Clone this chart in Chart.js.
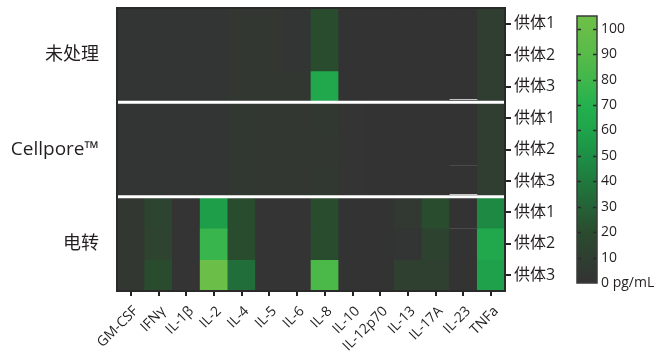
<!DOCTYPE html>
<html>
<head>
<meta charset="utf-8">
<script src="https://cdn.jsdelivr.net/npm/chart.js@4/dist/chart.umd.min.js"></script>
<style>
  html, body { margin: 0; padding: 0; background: #ffffff; }
  #wrap { position: relative; width: 659px; height: 353px; }
  #heat { position: absolute; left: 0; top: 0; }
  #bar { position: absolute; left: 560px; top: 0; }
</style>
</head>
<body>
<div id="wrap">
  <canvas id="heat" width="659" height="353"></canvas>
  <canvas id="bar" width="99" height="353"></canvas>
</div>
<script>
// Cytokine panel (columns) and sample rows
const cytokines = ['GM-CSF', 'IFNγ', 'IL-1β', 'IL-2', 'IL-4', 'IL-5', 'IL-6', 'IL-8', 'IL-10', 'IL-12p70', 'IL-13', 'IL-17A', 'IL-23', 'TNFa'];
const donors = ['供体1', '供体2', '供体3'];
const groups = ['未处理', 'Cellpore™', '电转'];

// Concentrations in pg/mL, one row per donor, columns in cytokine order
const untreated = [
  [2, 2, 2, 2, 3, 3, 2, 20, 0, 0, 0, 0, 0, 8],
  [2, 2, 2, 2, 3, 3, 2, 20, 0, 0, 0, 0, 0, 9],
  [2, 2, 2, 2, 3, 3, 3, 63, 0, 0, 0, 0, 0, 8]
];
const cellpore = [
  [2, 2, 2, 2, 4, 3, 3, 4, 1, 0, 0, 0, 0, 9],
  [2, 2, 2, 2, 4, 3, 3, 3, 1, 0, 0, 0, 0, 9],
  [2, 2, 2, 2, 4, 3, 3, 4, 1, 0, 0, 0, 0, 9]
];
const electroporation = [
  [3, 14, 1, 57, 20, 1, 1, 20, 0, 0, 5, 20, 0, 47],
  [3, 13, 1, 77, 20, 1, 1, 20, 0, 0, 2, 12, 0, 63],
  [3, 20, 1, 103, 35, 1, 1, 84, 0, 0, 11, 11, 0, 58]
];

// Colour scale
const scaleMax = 105;
const scaleTicks = [0, 10, 20, 30, 40, 50, 60, 70, 80, 90, 100];
const scaleUnit = 'pg/mL';
const colorStops = [
  [0, '#333333'], [10, '#2f3f31'], [20, '#2a4c2e'], [30, '#256236'],
  [40, '#1f7a3d'], [50, '#1d8f45'], [60, '#1fa44b'], [70, '#24b14e'],
  [80, '#40b74b'], [90, '#58bb49'], [100, '#68be48'], [105, '#6dc048']
];

const FONT = "'Open Sans', 'Noto Sans CJK SC', sans-serif";
const INK = '#231f20';

function hexToRgb(h) {
  return [parseInt(h.slice(1, 3), 16), parseInt(h.slice(3, 5), 16), parseInt(h.slice(5, 7), 16)];
}
function colorFor(v) {
  if (v <= colorStops[0][0]) return colorStops[0][1];
  for (let i = 1; i < colorStops.length; i++) {
    const [v1, c1] = colorStops[i];
    if (v <= v1) {
      const [v0, c0] = colorStops[i - 1];
      const t = (v - v0) / (v1 - v0);
      const a = hexToRgb(c0), b = hexToRgb(c1);
      const m = a.map((x, k) => Math.round(x + (b[k] - x) * t));
      return `rgb(${m[0]},${m[1]},${m[2]})`;
    }
  }
  return colorStops[colorStops.length - 1][1];
}

const rows = [...untreated, ...cellpore, ...electroporation];

// One stacked band per sample row; each cell coloured by its concentration
const datasets = rows.map((vals, r) => ({
  label: groups[Math.floor(r / 3)] + ' ' + donors[r % 3],
  data: vals.map(() => 1),
  values: vals,
  backgroundColor: vals.map(colorFor),
  borderWidth: 0,
  barPercentage: 1,
  categoryPercentage: 1,
  yAxisID: 'y'
}));

// keep axis end labels from pushing the plot area inwards
function noEdgePadding(s) {
  s.paddingTop = 0; s.paddingBottom = 0; s.paddingLeft = 0; s.paddingRight = 0;
}

const heatFrame = {
  id: 'heatFrame',
  beforeDatasetsDraw(chart) {
    const { ctx, chartArea: a } = chart;
    ctx.save();
    ctx.fillStyle = colorFor(0);
    ctx.fillRect(a.left, a.top, a.right - a.left, a.bottom - a.top);
    ctx.restore();
  },
  afterDatasetsDraw(chart) {
    const { ctx, chartArea: a } = chart;
    const x = chart.scales.x, y = chart.scales.y;
    ctx.save();
    // thin outlines on the IL-23 column
    const ci = cytokines.indexOf('IL-23');
    const x0 = x.getPixelForValue(ci - 0.5), x1 = x.getPixelForValue(ci + 0.5);
    ctx.lineWidth = 1;
    ctx.strokeStyle = '#4a4a4a';
    [5, 7].forEach(r => {
      const py = Math.round(y.getPixelForValue(r)) + 0.5;
      ctx.beginPath(); ctx.moveTo(x0, py); ctx.lineTo(x1, py); ctx.stroke();
    });
    ctx.strokeStyle = '#c4c4c4';
    [3, 6].forEach(r => {
      const py = Math.round(y.getPixelForValue(r)) - 2.5;
      ctx.beginPath(); ctx.moveTo(x0, py); ctx.lineTo(x1, py); ctx.stroke();
    });
    // white separators between treatment groups
    ctx.strokeStyle = '#ffffff';
    ctx.lineWidth = 3;
    for (let g = 1; g < groups.length; g++) {
      const py = y.getPixelForValue(g * donors.length);
      ctx.beginPath();
      ctx.moveTo(a.left, py);
      ctx.lineTo(a.right, py);
      ctx.stroke();
    }
    // frame
    ctx.strokeStyle = '#2a2a2a';
    ctx.lineWidth = 2;
    ctx.strokeRect(a.left, a.top, a.right - a.left, a.bottom - a.top);
    ctx.restore();
  }
};

new Chart(document.getElementById('heat'), {
  type: 'bar',
  data: { labels: cytokines, datasets },
  options: {
    responsive: false,
    animation: false,
    devicePixelRatio: 1,
    layout: { padding: { top: 8, right: 104, left: 0, bottom: 0 } },
    plugins: { legend: { display: false }, tooltip: { enabled: false } },
    scales: {
      x: {
        stacked: true,
        offset: true,
        grid: { offset: false, drawOnChartArea: false, drawTicks: true, tickLength: 5, color: '#222', lineWidth: 2 },
        border: { display: false },
        ticks: {
          minRotation: 45, maxRotation: 45, autoSkip: false, padding: 7, labelOffset: 5,
          color: INK, font: { family: FONT, size: 14 }
        },
        afterFit(s) { s.height = 62; noEdgePadding(s); }
      },
      y: {
        type: 'linear',
        stacked: true,
        position: 'right',
        reverse: true,
        min: 0,
        max: rows.length,
        grid: { drawOnChartArea: false, drawTicks: true, tickLength: 6, color: '#222', lineWidth: 2 },
        border: { display: false },
        afterBuildTicks(s) { s.ticks = rows.map((_, r) => ({ value: r + 0.5 })); },
        ticks: {
          autoSkip: false, padding: 3, color: INK, font: { family: FONT, size: 16 },
          callback: (v) => donors[Math.floor(v) % donors.length]
        },
        afterFit(s) { s.width = 50; noEdgePadding(s); }
      },
      yg: {
        type: 'linear',
        position: 'left',
        reverse: true,
        min: 0,
        max: rows.length,
        grid: { display: false, drawTicks: false },
        border: { display: false },
        afterBuildTicks(s) { s.ticks = groups.map((_, g) => ({ value: g * 3 + 1.5 })); },
        ticks: {
          autoSkip: false, padding: 18, color: INK,
          font: (ctx) => ({ family: FONT, size: (ctx.tick && ctx.tick.value === 4.5) ? 19 : 18 }),
          callback: (v) => groups[Math.floor(v / 3)]
        },
        afterFit(s) { s.width = 117; noEdgePadding(s); }
      }
    }
  },
  plugins: [heatFrame]
});

// Colour bar legend
const barFrame = {
  id: 'barFrame',
  afterDatasetsDraw(chart) {
    const { ctx, chartArea: a } = chart;
    const y = chart.scales.y;
    ctx.save();
    ctx.strokeStyle = '#2a2a2a';
    ctx.lineWidth = 1.5;
    scaleTicks.forEach(v => {
      if (v === 0) return;
      const py = Math.round(y.getPixelForValue(v)) + 0.5;
      ctx.beginPath();
      ctx.moveTo(a.left, py); ctx.lineTo(a.left + 4, py);
      ctx.moveTo(a.right - 4, py); ctx.lineTo(a.right, py);
      ctx.stroke();
    });
    ctx.strokeStyle = '#3a3a3a';
    ctx.strokeRect(a.left, a.top, a.right - a.left, a.bottom - a.top);
    ctx.restore();
  }
};

new Chart(document.getElementById('bar'), {
  type: 'bar',
  data: {
    labels: [''],
    datasets: [{
      data: [scaleMax],
      borderWidth: 0,
      barPercentage: 1,
      categoryPercentage: 1,
      backgroundColor(context) {
        const a = context.chart.chartArea;
        if (!a) return colorFor(0);
        const g = context.chart.ctx.createLinearGradient(0, a.bottom, 0, a.top);
        colorStops.forEach(([v, c]) => g.addColorStop(Math.min(1, v / scaleMax), c));
        return g;
      }
    }]
  },
  options: {
    responsive: false,
    animation: false,
    devicePixelRatio: 1,
    layout: { padding: { top: 16, left: 17, right: 0, bottom: 70 } },
    plugins: { legend: { display: false }, tooltip: { enabled: false } },
    scales: {
      x: { display: false, offset: true },
      y: {
        position: 'right',
        min: 0,
        max: scaleMax,
        grid: { display: false, drawTicks: false },
        border: { display: false },
        afterBuildTicks(s) { s.ticks = scaleTicks.map(v => ({ value: v })); },
        ticks: {
          autoSkip: false, padding: 4, color: INK, font: { family: FONT, size: 14 },
          callback: (v) => v === 0 ? '0 ' + scaleUnit : String(v)
        },
        afterFit(s) { s.width = 62; noEdgePadding(s); }
      }
    }
  },
  plugins: [barFrame]
});
</script>
</body>
</html>
